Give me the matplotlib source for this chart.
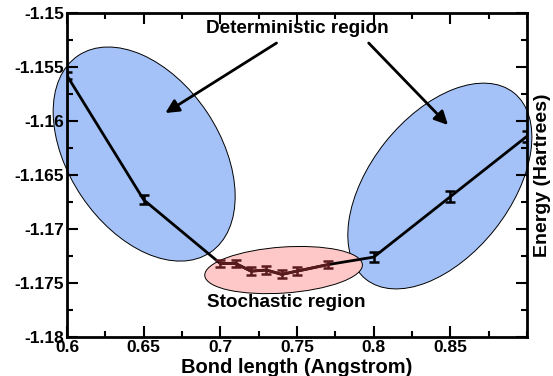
import matplotlib
matplotlib.use("Agg")
import matplotlib.pyplot as plt
import matplotlib.transforms as transforms
from matplotlib.patches import Ellipse
from matplotlib.ticker import MultipleLocator, FixedLocator

plt.rcParams['font.family'] = ['Liberation Sans', 'DejaVu Sans']
plt.rcParams['font.weight'] = 'bold'
plt.rcParams['axes.unicode_minus'] = False

# deterministic points
det_x = [0.60, 0.65, 0.80, 0.85, 0.90]
det_y = [-1.1558, -1.1673, -1.1726, -1.1670, -1.1614]
det_err = [0.0003, 0.00043, 0.0005, 0.0005, 0.0005]

# stochastic points
sto_x = [0.70, 0.71, 0.72, 0.73, 0.74, 0.75, 0.77]
sto_y = [-1.1732, -1.1732, -1.1739, -1.1738, -1.1742, -1.1739, -1.1733]
sto_err = [0.00035, 0.00035, 0.00037, 0.00037, 0.00037, 0.00037, 0.00035]

x_ticks = [0.6, 0.65, 0.7, 0.75, 0.8, 0.85]
x_labels = ['0.6', '0.65', '0.7', '0.75', '0.8', '0.85']
y_ticks = [-1.18, -1.175, -1.17, -1.165, -1.16, -1.155, -1.15]
y_labels = ['-1.18', '-1.175', '-1.17', '-1.165', '-1.16', '-1.155', '-1.15']

fig = plt.figure(figsize=(5.53, 3.76), dpi=100)
ax = fig.add_axes([0.1212, 0.1037, 0.832, 0.8617])
ax.set_xlim(0.6, 0.9)
ax.set_ylim(-1.18, -1.15)

# region ellipses: centre in data, size in inches
regions = [
    (0.6503, -1.16306, 2.37, 1.51, -56.2, '#a4c2f7', 1),
    (0.8431, -1.16602, 2.38, 1.40, 51.6, '#a4c2f7', 1),
    (0.7412, -1.17380, 1.58, 0.46, 4.0, '#ffc8c8', 2),
]
for cx, cy, w, h, ang, col, z in regions:
    trans = fig.dpi_scale_trans + transforms.ScaledTranslation(cx, cy, ax.transData)
    e = Ellipse((0, 0), w, h, angle=ang, transform=trans, facecolor=col,
                edgecolor='black', linewidth=0.7, clip_on=False, zorder=z)
    ax.add_patch(e)

# full curve in black
all_x = det_x[:2] + sto_x + det_x[2:]
all_y = det_y[:2] + sto_y + det_y[2:]
ax.plot(all_x, all_y, color='black', lw=2, zorder=3)
ax.errorbar(det_x, det_y, yerr=det_err, fmt='none', ecolor='black',
            elinewidth=1.8, capsize=3.5, capthick=1.8, zorder=4)

# stochastic part
ax.errorbar(sto_x, sto_y, yerr=sto_err, color='#5a1a1e', lw=2,
            elinewidth=1.8, capsize=3.5, capthick=1.8, zorder=5)

ax.text(0.7503, -1.15148, 'Deterministic region', ha='center', va='center',
        fontsize=13.6, fontweight='bold', zorder=6)
ax.text(0.7431, -1.17685, 'Stochastic region', ha='center', va='center',
        fontsize=13.6, fontweight='bold', zorder=6)

arrow = dict(arrowstyle='-|>', lw=2, color='black', mutation_scale=20,
             shrinkA=0, shrinkB=0)
ax.annotate('', xy=(0.6641, -1.15926), xytext=(0.7366, -1.15278), arrowprops=arrow)
ax.annotate('', xy=(0.8484, -1.16037), xytext=(0.7967, -1.15278), arrowprops=arrow)

ax.xaxis.set_major_locator(FixedLocator(x_ticks))
ax.set_xticklabels(x_labels)
ax.xaxis.set_minor_locator(MultipleLocator(0.025))
ax.yaxis.set_major_locator(FixedLocator(y_ticks))
ax.set_yticklabels(y_labels)
ax.yaxis.set_minor_locator(MultipleLocator(0.0025))

ax.tick_params(which='both', direction='in', top=True, right=True, width=1.5,
               labelsize=12.5)
ax.tick_params(axis='x', pad=2)
ax.tick_params(axis='y', pad=2)
ax.tick_params(which='major', length=8)
ax.tick_params(which='minor', length=4)
for lab in ax.get_xticklabels() + ax.get_yticklabels():
    lab.set_fontweight('bold')
for sp in ax.spines.values():
    sp.set_linewidth(2)
    sp.set_zorder(7)

ax.set_xlabel('Bond length (Angstrom)', fontsize=14.5, fontweight='bold', labelpad=2)
ax.yaxis.set_label_position('right')
ax.set_ylabel('Energy (Hartrees)', fontsize=14, fontweight='bold', labelpad=5)

fig.savefig('out.png', dpi=100)
